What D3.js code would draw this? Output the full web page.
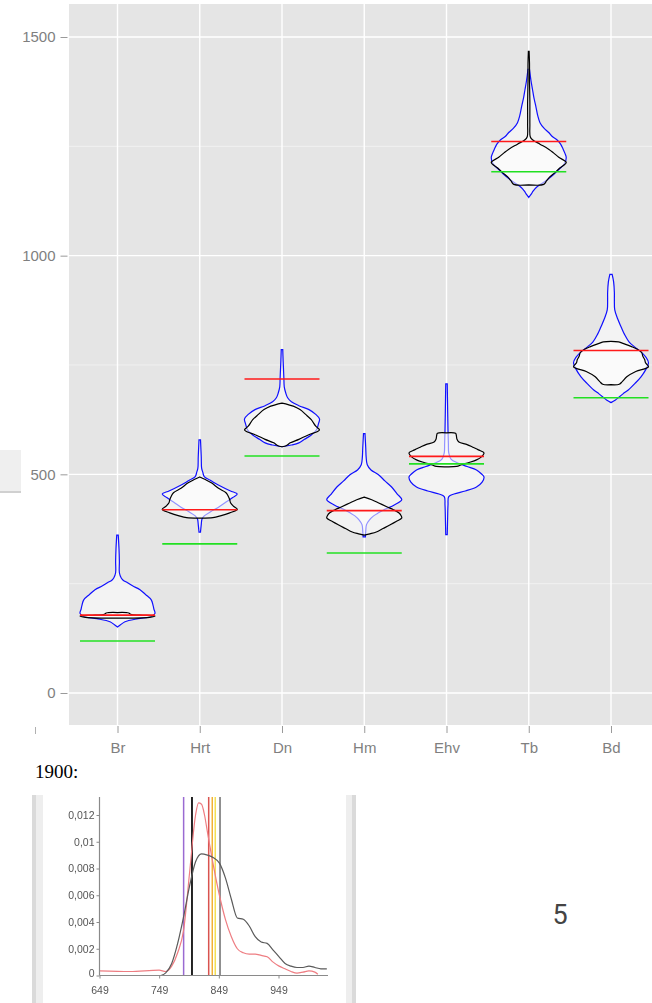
<!DOCTYPE html>
<html>
<head>
<meta charset="utf-8">
<script src="https://cdn.jsdelivr.net/npm/d3@7"></script>
<style>
  html, body { margin: 0; padding: 0; background: #fff; overflow: hidden; }
  svg { display: block; }
</style>
</head>
<body>
<svg id="chart" width="652" height="1003"></svg>
<script>
// ---- Violin chart data -------------------------------------------------
const categories = ["Br", "Hrt", "Dn", "Hm", "Ehv", "Tb", "Bd"];

// reference levels per district
const redValues   = [178, 419, 718, 417, 541, 1261, 783];
const greenValues = [119, 341, 542, 320, 524, 1192, 675];

// density profiles: [value, relative density (0..1)]
const blueProfiles = [
  [[151,0],[156,0.08],[163,0.2],[170,0.55],[175,0.9],[182,1],[192,0.97],[200,0.95],[213,0.9],[225,0.75],[236,0.6],[245,0.4],[252,0.27],[258,0.15],[263,0.1],[275,0.05],[300,0.05],[330,0.04],[361,0.02]],
  [[368,0.02],[385,0.04],[398,0.06],[405,0.12],[415,0.3],[425,0.5],[437,0.7],[447,0.88],[455,1],[462,0.82],[471,0.6],[480,0.4],[487,0.27],[495,0.12],[505,0.08],[514,0.05],[540,0.04],[579,0.02]],
  [[563,0],[567,0.25],[572,0.45],[580,0.6],[590,0.78],[602,0.92],[615,0.97],[627,1],[637,0.9],[648,0.72],[657,0.45],[666,0.25],[675,0.15],[686,0.1],[700,0.06],[720,0.05],[740,0.04],[760,0.03],[785,0.02]],
  [[357,0.03],[370,0.04],[385,0.06],[396,0.14],[405,0.25],[412,0.38],[420,0.55],[430,0.8],[442,1],[455,0.88],[471,0.73],[485,0.55],[499,0.38],[510,0.18],[522,0.08],[540,0.05],[560,0.04],[593,0.02]],
  [[362,0.02],[400,0.03],[430,0.04],[449,0.06],[455,0.2],[462,0.5],[471,0.8],[482,0.95],[494,1],[502,0.92],[510,0.8],[518,0.55],[526,0.3],[535,0.12],[549,0.06],[570,0.05],[600,0.04],[650,0.03],[707,0.02]],
  [[1133,0],[1140,0.06],[1148,0.12],[1156,0.2],[1165,0.35],[1174,0.5],[1186,0.67],[1197,0.8],[1210,0.95],[1224,1],[1235,0.96],[1243,0.92],[1255,0.85],[1265,0.75],[1273,0.62],[1281,0.54],[1292,0.4],[1304,0.3],[1320,0.24],[1341,0.19],[1360,0.14],[1380,0.1],[1400,0.06],[1426,0.02]],
  [[664,0],[670,0.12],[675,0.19],[684,0.32],[693,0.46],[708,0.64],[723,0.8],[740,0.93],[755,1],[768,0.93],[780,0.8],[792,0.62],[803,0.48],[820,0.36],[837,0.27],[855,0.18],[876,0.1],[900,0.09],[915,0.09],[940,0.07],[957,0.03]]
];

const blackProfiles = [
  [[171,0],[173,0.85],[176,1],[178,0.6],[180,0.35],[183,0.3],[184,0]],
  [[400,0],[401,0.35],[405,0.55],[412,0.8],[420,1],[427,0.9],[435,0.82],[442,0.8],[450,0.76],[458,0.7],[468,0.5],[480,0.32],[488,0.15],[494,0]],
  [[563,0],[566,0.12],[572,0.22],[580,0.45],[590,0.7],[598,0.95],[602,1],[610,0.9],[625,0.78],[637,0.63],[648,0.48],[656,0.3],[663,0]],
  [[361,0],[364,0.15],[368,0.32],[376,0.5],[384,0.68],[392,0.85],[400,1],[406,0.98],[412,0.92],[419,0.78],[426,0.6],[434,0.4],[442,0.2],[448,0]],
  [[517,0],[518,0.27],[522,0.4],[527,0.6],[533,0.8],[540,0.93],[549,1],[556,0.85],[562,0.7],[568,0.55],[574,0.33],[580,0.28],[590,0.26],[594,0.24],[595,0]],
  [[1162,0],[1163,0.4],[1172,0.48],[1180,0.56],[1190,0.7],[1200,0.82],[1213,1],[1225,0.8],[1235,0.66],[1243,0.54],[1255,0.3],[1265,0.1],[1272,0.04],[1300,0.03],[1350,0.03],[1400,0.02],[1440,0.02],[1467,0.01]],
  [[705,0],[706,0.22],[712,0.3],[723,0.42],[735,0.66],[746,1],[755,0.92],[762,0.9],[770,0.85],[778,0.82],[786,0.7],[792,0.55],[800,0.3],[803,0.2],[804,0]]
];

const yTicks = [0, 500, 1000, 1500];
const yMinor = [250, 750, 1250];

// ---- Density inset data (1900) -----------------------------------------
const insetXTicks = [649, 749, 849, 949];
const insetYTicks = [0, 0.002, 0.004, 0.006, 0.008, 0.01, 0.012];
const pinkDensity = [[649,0.00035],[700,0.0003],[749,0.0004],[760,0.0003],[770,0.0007],[780,0.0017],[790,0.0034],[800,0.0077],[810,0.012],[815,0.0129],[820,0.0128],[825,0.012],[830,0.0107],[840,0.0082],[850,0.006],[860,0.0042],[870,0.0029],[880,0.002],[890,0.0017],[900,0.0016],[910,0.0016],[920,0.0015],[930,0.0014],[940,0.001],[950,0.0007],[960,0.0005],[970,0.0003],[980,0.00018],[990,0.00025],[1000,0.00035],[1010,0.00025],[1015,0.0001]];
const greyDensity = [[752,0],[760,0.0002],[770,0.0009],[780,0.0024],[790,0.0044],[800,0.0067],[810,0.0085],[820,0.0091],[830,0.009],[840,0.0088],[850,0.0084],[860,0.0073],[870,0.0057],[880,0.0043],[890,0.0042],[900,0.0037],[910,0.0029],[920,0.0025],[930,0.0024],[940,0.0019],[950,0.0014],[960,0.0009],[970,0.0007],[980,0.0006],[990,0.0006],[1000,0.0007],[1010,0.0006],[1020,0.0005],[1030,0.0005]];
const markerValues = [790, 804, 832, 838, 843, 851];

// ---- Drawing -----------------------------------------------------------
const svg = d3.select("#chart");
const FONT = "'Liberation Sans', Arial, sans-serif";

const x = d3.scalePoint().domain(categories).range([117.5, 611]);
const y = d3.scaleLinear().domain([0, 1500]).range([693, 37]);
const halfW = 37.5;
const w = d3.scaleLinear().domain([0, 1]).range([0, halfW]);

const panel = { left: 69, top: 4, right: 662, bottom: 725 };

svg.append("rect")
  .attr("x", panel.left).attr("y", panel.top)
  .attr("width", panel.right - panel.left).attr("height", panel.bottom - panel.top)
  .attr("fill", "#e5e5e5");

// grid
svg.append("g").selectAll("line").data(yMinor).join("line")
  .attr("x1", panel.left).attr("x2", panel.right)
  .attr("y1", d => y(d)).attr("y2", d => y(d))
  .attr("stroke", "#f4f4f4").attr("stroke-width", 0.8);
svg.append("g").selectAll("line").data(yTicks).join("line")
  .attr("x1", panel.left).attr("x2", panel.right)
  .attr("y1", d => y(d)).attr("y2", d => y(d))
  .attr("stroke", "#fff").attr("stroke-width", 1.4);
svg.append("g").selectAll("line").data(categories).join("line")
  .attr("x1", d => x(d)).attr("x2", d => x(d))
  .attr("y1", panel.top).attr("y2", panel.bottom)
  .attr("stroke", "#fff").attr("stroke-width", 1.4);

// violins
const violin = (cx) => d3.area()
  .y(d => y(d[0]))
  .x0(d => cx - w(d[1]))
  .x1(d => cx + w(d[1]))
  .curve(d3.curveCatmullRom);

const vg = svg.append("g");
categories.forEach((c, i) => {
  const cx = x(c);
  vg.append("path").datum(blueProfiles[i])
    .attr("d", violin(cx))
    .attr("fill", "#f3f3f3")
    .attr("stroke", "#1010ff").attr("stroke-width", 1.2);
  vg.append("path").datum(blackProfiles[i])
    .attr("d", violin(cx))
    .attr("fill", "#ffffff").attr("fill-opacity", 0.55)
    .attr("stroke", "#000").attr("stroke-width", 1.2);
});

// reference lines
svg.append("g").selectAll("line").data(categories).join("line")
  .attr("x1", d => x(d) - halfW).attr("x2", d => x(d) + halfW)
  .attr("y1", (d, i) => y(greenValues[i])).attr("y2", (d, i) => y(greenValues[i]))
  .attr("stroke", "#22e022").attr("stroke-width", 1.6);
svg.append("g").selectAll("line").data(categories).join("line")
  .attr("x1", d => x(d) - halfW).attr("x2", d => x(d) + halfW)
  .attr("y1", (d, i) => y(redValues[i])).attr("y2", (d, i) => y(redValues[i]))
  .attr("stroke", "#ff1a1a").attr("stroke-width", 1.6);

// axes
const yAxis = svg.append("g")
  .attr("transform", `translate(${panel.left - 1.5},0)`)
  .call(d3.axisLeft(y).tickValues(yTicks).tickSize(7).tickPadding(5).tickFormat(d3.format("d")));
const xAxis = svg.append("g")
  .attr("transform", `translate(0,${panel.bottom + 1})`)
  .call(d3.axisBottom(x).tickSize(7).tickPadding(9));
[yAxis, xAxis].forEach(g => {
  g.select(".domain").remove();
  g.selectAll(".tick line").attr("stroke", "#9a9a9a").attr("stroke-width", 1);
  g.selectAll(".tick text").attr("fill", "#7f7f7f")
    .style("font-family", FONT).style("font-size", "15px");
});

// stray tick and side element at the left edge
svg.append("line").attr("x1", 35.5).attr("x2", 35.5).attr("y1", 727).attr("y2", 734)
  .attr("stroke", "#b0b0b0").attr("stroke-width", 1);
svg.append("rect").attr("x", 0).attr("y", 450).attr("width", 21).attr("height", 42)
  .attr("fill", "#efefef");
svg.append("rect").attr("x", 0).attr("y", 491).attr("width", 21).attr("height", 2)
  .attr("fill", "#d0d0d0");

// year caption
svg.append("text").attr("x", 35).attr("y", 778)
  .style("font-family", "'Liberation Serif', 'Times New Roman', serif")
  .style("font-size", "19px").attr("fill", "#000").text("1900:");

// ---- Inset density plot --------------------------------------------------
const defs = svg.append("defs");
defs.append("filter").attr("id", "soft")
  .append("feGaussianBlur").attr("stdDeviation", 0.45);

const inset = svg.append("g").attr("filter", "url(#soft)");
inset.append("rect").attr("x", 32).attr("y", 795).attr("width", 4).attr("height", 208).attr("fill", "#dadada");
inset.append("rect").attr("x", 36).attr("y", 795).attr("width", 7).attr("height", 208).attr("fill", "#eeeeee");
inset.append("rect").attr("x", 346).attr("y", 795).attr("width", 6).attr("height", 208).attr("fill", "#eeeeee");
inset.append("rect").attr("x", 352).attr("y", 795).attr("width", 4).attr("height", 208).attr("fill", "#dadada");

const ix = d3.scaleLinear().domain([649, 949]).range([99.5, 278.5]);
const iy = d3.scaleLinear().domain([0, 0.012]).range([975.5, 815]);
const iTop = 797, iRight = 328;

const markerColors = ["#9a6ad2", "#111111", "#d9534f", "#f2b134", "#f3df55", "#6f6f6f"];
inset.append("g").selectAll("line").data(markerValues).join("line")
  .attr("x1", d => ix(d)).attr("x2", d => ix(d))
  .attr("y1", iTop).attr("y2", iy(0))
  .attr("stroke", (d, i) => markerColors[i])
  .attr("stroke-width", (d, i) => i === 1 ? 1.8 : 1.5);

const dl = d3.line().x(d => ix(d[0])).y(d => iy(d[1])).curve(d3.curveMonotoneX);
inset.append("path").datum(pinkDensity).attr("d", dl)
  .attr("fill", "none").attr("stroke", "#ee7d82").attr("stroke-width", 1.2);
inset.append("path").datum(greyDensity).attr("d", dl)
  .attr("fill", "none").attr("stroke", "#5a5a5a").attr("stroke-width", 1.2);

const ixAxis = inset.append("g").attr("transform", `translate(0,${iy(0)})`)
  .call(d3.axisBottom(ix).tickValues(insetXTicks).tickSize(3).tickPadding(8).tickFormat(d3.format("d")));
ixAxis.select(".domain").attr("d", `M${ix(649)},0H${iRight}`);
const iyAxis = inset.append("g").attr("transform", `translate(${ix(649)},0)`)
  .call(d3.axisLeft(iy).tickValues(insetYTicks).tickSize(3).tickPadding(2)
    .tickFormat(d => String(d).replace(".", ",")));
iyAxis.select(".domain").attr("d", `M0,${iTop}V${iy(0)}`);
[ixAxis, iyAxis].forEach(g => {
  g.select(".domain").attr("stroke", "#8a8a8a").attr("stroke-width", 1.2);
  g.selectAll(".tick line").attr("stroke", "#8a8a8a");
  g.selectAll(".tick text").attr("fill", "#555")
    .style("font-family", FONT).style("font-size", "10.5px");
});
// keep the baseline label clear of the first year label
iyAxis.selectAll(".tick text").filter(d => d === 0).attr("dy", "0.1em");

// page number
svg.append("text").attr("x", 560).attr("y", 924).attr("text-anchor", "middle")
  .style("font-family", "Roboto, sans-serif").style("font-size", "27px")
  .attr("fill", "#444").text("5");
</script>
</body>
</html>
